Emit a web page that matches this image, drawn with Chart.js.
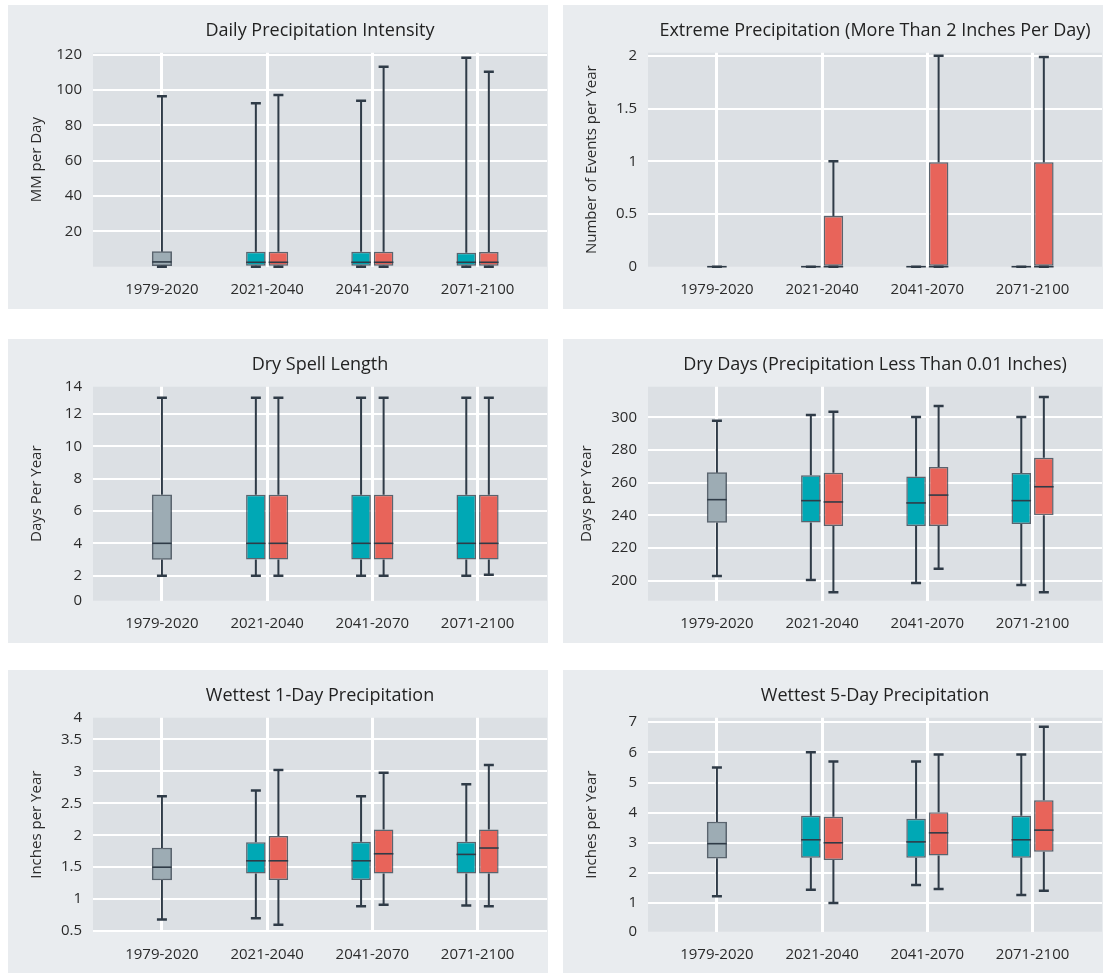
<!DOCTYPE html>
<html>
<head>
<meta charset="utf-8">
<script src="https://cdn.jsdelivr.net/npm/chart.js@4/dist/chart.umd.min.js"></script>
<style>
  body { margin: 0; background: #fff; width: 1105px; height: 973px; position: relative; overflow: hidden; }
  .panel { position: absolute; width: 540px; height: 304px; background: #e9ecef; }
  canvas { display: block; }
</style>
</head>
<body>
<div class="panel" style="left:8px;top:5px"><canvas id="intensity" width="540" height="304"></canvas></div>
<div class="panel" style="left:563px;top:5px"><canvas id="extreme" width="540" height="304"></canvas></div>
<div class="panel" style="left:8px;top:339px"><canvas id="drySpell" width="540" height="304"></canvas></div>
<div class="panel" style="left:563px;top:339px"><canvas id="dryDays" width="540" height="304"></canvas></div>
<div class="panel" style="left:8px;top:670px"><canvas id="wet1" width="540" height="304"></canvas></div>
<div class="panel" style="left:563px;top:670px"><canvas id="wet5" width="540" height="304"></canvas></div>
<script>
const periods = ['1979-2020', '2021-2040', '2041-2070', '2071-2100'];

// each box = [min, q1, median, q3, max]; model A / B cover 2021-2040, 2041-2070, 2071-2100
const intensityHist = [0, 0.6, 2.7, 8.5, 96.5];
const intensityA = [[0, 0.6, 2.5, 8.5, 92.5], [0, 0.6, 2.5, 8.5, 94], [0, 0.6, 2.5, 7.9, 118.3]];
const intensityB = [[0, 0.6, 2.5, 8.5, 97.3], [0, 0.6, 2.5, 8.5, 113.3], [0, 0.6, 2.5, 8.3, 110.4]];
const intensityTicks = [20, 40, 60, 80, 100, 120];

const extremeHist = [0, 0, 0, 0, 0];
const extremeA = [[0, 0, 0, 0, 0], [0, 0, 0, 0, 0], [0, 0, 0, 0, 0]];
const extremeB = [[0, 0, 0, 0.48, 1], [0, 0, 0, 0.99, 2], [0, 0, 0, 0.99, 1.99]];
const extremeTicks = [0, 0.5, 1, 1.5, 2];

const drySpellHist = [2, 3, 4, 7, 13];
const drySpellA = [[2, 3, 4, 7, 13], [2, 3, 4, 7, 13], [2, 3, 4, 7, 13]];
const drySpellB = [[2, 3, 4, 7, 13], [2, 3, 4, 7, 13], [2.05, 3, 4, 7, 13]];
const drySpellTicks = [0, 2, 4, 6, 8, 10, 12, 14];

const dryDaysHist = [202.9, 235.7, 249.6, 266.1, 297.9];
const dryDaysA = [[200.4, 235.7, 249, 264.5, 301.4], [198.6, 233.5, 247.6, 263.7, 300.2], [197.4, 234.7, 249, 265.9, 300.2]];
const dryDaysB = [[193, 233.5, 248.2, 266.1, 303.4], [207.3, 233.5, 252.4, 269.6, 306.9], [193, 240, 257.5, 275.3, 312.4]];
const dryDaysTicks = [200, 220, 240, 260, 280, 300];

const wet1Hist = [0.68, 1.3, 1.5, 1.8, 2.61];
const wet1A = [[0.7, 1.4, 1.6, 1.89, 2.7], [0.89, 1.3, 1.6, 1.9, 2.61], [0.9, 1.4, 1.7, 1.9, 2.8]];
const wet1B = [[0.6, 1.3, 1.6, 1.99, 3.02], [0.91, 1.4, 1.71, 2.09, 2.98], [0.89, 1.4, 1.8, 2.09, 3.1]];
const wet1Ticks = [0.5, 1, 1.5, 2, 2.5, 3, 3.5, 4];

const wet5Hist = [1.23, 2.49, 2.97, 3.69, 5.5];
const wet5A = [[1.44, 2.5, 3.1, 3.9, 6.0], [1.6, 2.5, 3.03, 3.8, 5.7], [1.27, 2.5, 3.1, 3.9, 5.93]];
const wet5B = [[1.0, 2.43, 3.0, 3.86, 5.7], [1.47, 2.58, 3.33, 4.01, 5.93], [1.41, 2.7, 3.42, 4.41, 6.85]];
const wet5Ticks = [0, 1, 2, 3, 4, 5, 6, 7];

const FONT = '"Open Sans", "Noto Sans", sans-serif';
const DARK = '#2f3b47';
const HIST = '#9dacb4', TEAL = '#00a8b5', RED = '#e8645a';

// plot background + whiskers/medians drawn from each bar element
const boxPlugin = {
    id: 'boxes',
    beforeDraw(chart) {
        const { ctx, chartArea: a } = chart;
        ctx.save();
        ctx.fillStyle = '#dce0e4';
        ctx.fillRect(a.left, a.top, a.right - a.left, a.bottom - a.top);
        ctx.restore();
    },
    afterDatasetsDraw(chart) {
        const { ctx } = chart;
        const y = chart.scales.y;
        ctx.save();
        ctx.strokeStyle = DARK;
        chart.data.datasets.forEach((ds, i) => {
            chart.getDatasetMeta(i).data.forEach((bar, j) => {
                const s = ds.stats[j];
                const x = bar.x, half = bar.width / 2;
                const pMin = y.getPixelForValue(s[0]), pQ1 = y.getPixelForValue(s[1]);
                const pMed = y.getPixelForValue(s[2]), pQ3 = y.getPixelForValue(s[3]);
                const pMax = y.getPixelForValue(s[4]);
                ctx.lineWidth = 2;
                ctx.beginPath();
                ctx.moveTo(x, pQ3); ctx.lineTo(x, pMax);
                ctx.moveTo(x, pQ1); ctx.lineTo(x, pMin);
                ctx.stroke();
                ctx.lineWidth = 2.5;
                ctx.beginPath();
                ctx.moveTo(x - 5, pMax); ctx.lineTo(x + 5, pMax);
                ctx.moveTo(x - 5, pMin); ctx.lineTo(x + 5, pMin);
                ctx.stroke();
                ctx.lineWidth = 1.6;
                ctx.beginPath();
                ctx.moveTo(x - half, pMed); ctx.lineTo(x + half, pMed);
                ctx.stroke();
            });
        });
        ctx.restore();
    }
};

function boxChart(id, title, yTitle, hist, modelA, modelB, yTicks, yMin, yMax, yTitlePad) {
    const toBars = (stats, first) => stats.map((s, i) => ({ x: i + first, y: [s[1], s[3]] }));
    const edge = v => v <= yMin + 1e-6 || v >= yMax - 1e-6;
    new Chart(document.getElementById(id), {
        type: 'bar',
        data: {
            datasets: [
                { data: toBars([hist], 0), stats: [hist], backgroundColor: HIST, grouped: false, barThickness: 19.5 },
                { data: toBars(modelA, 1), stats: modelA, backgroundColor: TEAL },
                { data: toBars(modelB, 1), stats: modelB, backgroundColor: RED }
            ]
        },
        options: {
            responsive: false,
            animation: false,
            layout: { padding: { left: 0, right: 1, top: 0, bottom: 0 } },
            datasets: {
                bar: {
                    borderColor: 'rgba(47,59,71,0.75)',
                    borderWidth: 1.5,
                    borderSkipped: false,
                    categoryPercentage: 0.4286,
                    barPercentage: 0.8667
                }
            },
            scales: {
                x: {
                    type: 'linear',
                    offset: false,
                    min: -0.655,
                    max: 3.66,
                    afterBuildTicks: s => { s.ticks = periods.map((p, i) => ({ value: i })); },
                    afterFit: s => { s.height = 42.3; },
                    grid: { color: '#ffffff', lineWidth: 3, drawTicks: false, offset: false },
                    border: { display: false },
                    ticks: {
                        padding: 14,
                        color: '#2b2b2b',
                        font: { family: FONT, size: 15 },
                        callback: (v, i) => periods[i]
                    }
                },
                y: {
                    min: yMin,
                    max: yMax,
                    afterBuildTicks: s => {
                        s.ticks = yTicks.map(v => ({ value: Math.min(yMax, Math.max(yMin, v)) }));
                    },
                    afterFit: s => { s.width = 85; },
                    grid: {
                        drawTicks: false,
                        lineWidth: 2,
                        color: c => (c.tick && edge(c.tick.value)) ? 'rgba(255,255,255,0)' : '#ffffff'
                    },
                    border: { display: false },
                    ticks: {
                        padding: 11,
                        color: '#2b2b2b',
                        font: { family: FONT, size: 15 },
                        callback: (v, i) => String(yTicks[i])
                    },
                    title: {
                        display: true,
                        text: yTitle,
                        color: '#2b2b2b',
                        font: { family: FONT, size: 15 },
                        padding: { top: yTitlePad, bottom: 0 }
                    }
                }
            },
            plugins: {
                legend: { display: false },
                tooltip: { enabled: false },
                title: {
                    display: true,
                    text: title,
                    fullSize: false,
                    color: '#222222',
                    font: { family: FONT, size: 18, weight: 'normal' },
                    padding: { top: 15, bottom: 11.1 }
                }
            }
        },
        plugins: [boxPlugin]
    });
}

boxChart('intensity', 'Daily Precipitation Intensity', 'MM per Day',
    intensityHist, intensityA, intensityB, intensityTicks, 0, 121.2, 20);
boxChart('extreme', 'Extreme Precipitation (More Than 2 Inches Per Day)', 'Number of Events per Year',
    extremeHist, extremeA, extremeB, extremeTicks, 0, 2.03, 20);
boxChart('drySpell', 'Dry Spell Length', 'Days Per Year',
    drySpellHist, drySpellA, drySpellB, drySpellTicks, 0.45, 13.69, 20);
boxChart('dryDays', 'Dry Days (Precipitation Less Than 0.01 Inches)', 'Days per Year',
    dryDaysHist, dryDaysA, dryDaysB, dryDaysTicks, 187.8, 318.7, 15);
boxChart('wet1', 'Wettest 1-Day Precipitation', 'Inches per Year',
    wet1Hist, wet1A, wet1B, wet1Ticks, 0.49, 3.84, 20);
boxChart('wet5', 'Wettest 5-Day Precipitation', 'Inches per Year',
    wet5Hist, wet5A, wet5B, wet5Ticks, 0.05, 7.15, 20);
</script>
</body>
</html>
